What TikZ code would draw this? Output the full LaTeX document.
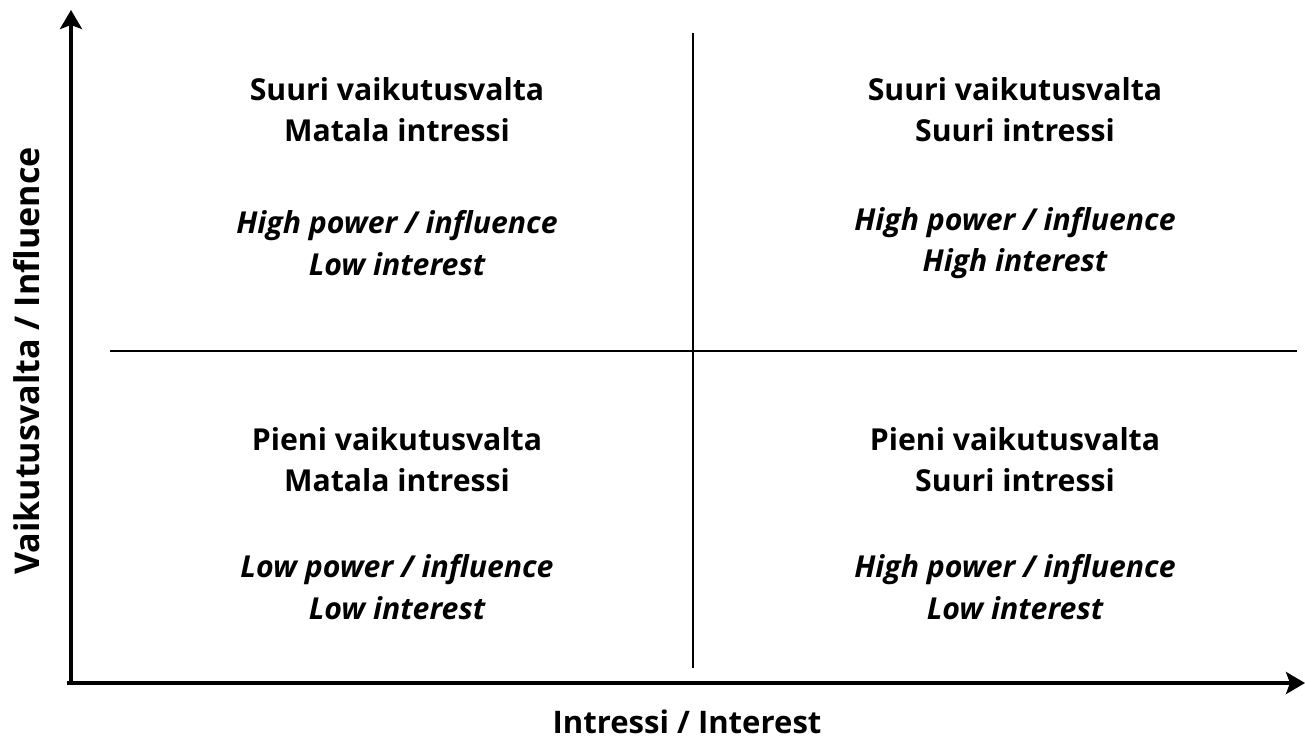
\documentclass[tikz,border=0pt]{standalone}
\usepackage{fontspec}
\setmainfont{Open Sans}
\usetikzlibrary{arrows.meta,positioning}
\tikzset{
  axis/.style={-{Stealth[length=3.8mm,width=4.4mm,inset=0.8mm]}, line width=2.1pt},
  divider/.style={line width=1.6pt},
  fitext/.style={align=center, font=\fontsize{17.2}{23.5}\selectfont\bfseries},
  entext/.style={align=center, font=\fontsize{17.2}{23.5}\selectfont\bfseries\itshape},
  axlabel/.style={font=\fontsize{17.7}{23.5}\selectfont\bfseries}
}

\begin{document}
\begin{tikzpicture}[x=0.02cm, y=-0.02cm]
  \useasboundingbox (0,0) rectangle (1305,741);
  % axes
  \coordinate (origin) at (71,683);
  \coordinate (ytip) at (71,10);
  \coordinate (xtip) at (1305,683);
  \draw[axis] (67,683) -- (xtip);
  \draw[axis] (origin) -- (ytip);

  % quadrant lines
  \coordinate (vtop) at (693,33);
  \coordinate (vbot) at (693,668);
  \coordinate (hleft) at (110,351);
  \coordinate (hright) at (1297,351);
  \draw[divider] (vtop) -- (vbot);
  \draw[divider] (hleft) -- (hright);

  % quadrant texts
  \node[fitext] (tlfi) at (397,110) {Suuri vaikutusvalta\\Matala intressi};
  \node[entext] (tlen) at (397,243) {High power / influence\\Low interest};
  \node[fitext] (trfi) at (1015,110) {Suuri vaikutusvalta\\Suuri intressi};
  \node[entext] (tren) at (1015,243) {High power / influence\\High interest};
  \node[fitext] (blfi) at (397,460) {Pieni vaikutusvalta\\Matala intressi};
  \node[entext] (blen) at (397,587) {Low power / influence\\Low interest};
  \node[fitext] (brfi) at (1015,460) {Pieni vaikutusvalta\\Suuri intressi};
  \node[entext] (bren) at (1015,587) {High power / influence\\Low interest};

  % axis labels
  \node[axlabel, font=\fontsize{19.4}{23.5}\selectfont\bfseries, rotate=90] (ylabel) at (27,361) {Vaikutusvalta / Influence};
  \node[axlabel] (xlabel) at (687,722) {Intressi / Interest};
\end{tikzpicture}
\end{document}
